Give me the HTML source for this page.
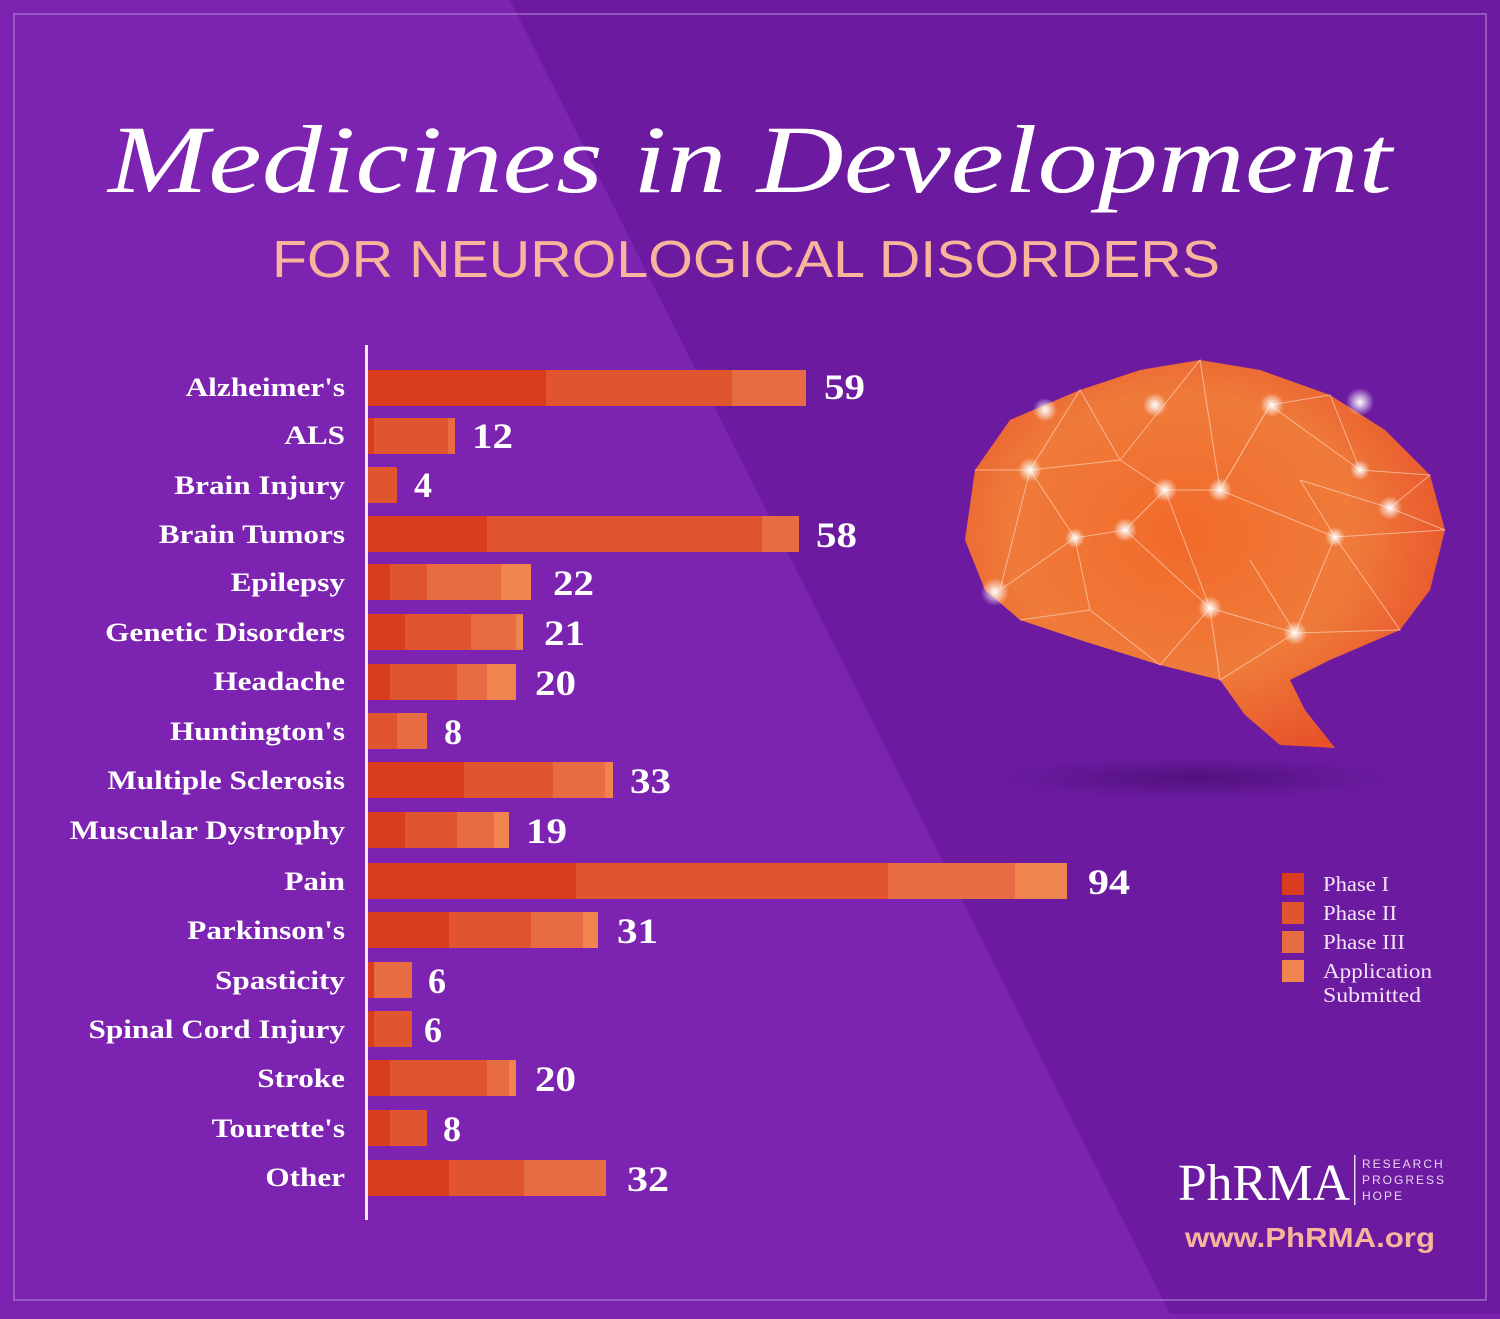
<!DOCTYPE html>
<html><head><meta charset="utf-8"><style>
html,body{margin:0;padding:0;}
body{width:1500px;height:1314px;overflow:hidden;background:#7b22b0;}
</style></head><body>
<svg width="1500" height="1314" viewBox="0 0 1500 1314" xmlns="http://www.w3.org/2000/svg">
<defs>
<radialGradient id="br" cx="0.45" cy="0.45" r="0.6">
<stop offset="0" stop-color="#f26a2a"/><stop offset="0.6" stop-color="#ef7b3a"/><stop offset="1" stop-color="#e8532a"/>
</radialGradient>
<radialGradient id="gl"><stop offset="0" stop-color="#fff" stop-opacity="1"/><stop offset="1" stop-color="#fff" stop-opacity="0"/></radialGradient>
<radialGradient id="sh"><stop offset="0" stop-color="#4a0f73" stop-opacity="0.8"/><stop offset="1" stop-color="#4a0f73" stop-opacity="0"/></radialGradient>
</defs>
<rect width="1500" height="1314" fill="#7d23b1"/>
<polygon points="510,0 1500,0 1500,1314 1170,1314" fill="#6c1ba1"/>
<rect x="14" y="14" width="1472" height="1286" fill="none" stroke="#b98ad6" stroke-width="1.5" opacity="0.7"/>
<text x="108" y="192" textLength="1284" lengthAdjust="spacingAndGlyphs" font-family="Liberation Serif, serif" font-style="italic" font-size="96" fill="#fff">Medicines in Development</text>
<text x="272" y="277" textLength="948" lengthAdjust="spacingAndGlyphs" font-family="Liberation Sans, sans-serif" font-size="52" fill="#f8b59c">FOR NEUROLOGICAL DISORDERS</text>
<!-- brain -->
<ellipse cx="1195" cy="778" rx="200" ry="22" fill="url(#sh)"/>
<path d="M975,470 L1010,420 L1080,390 L1140,370 L1200,360 L1260,370 L1330,395 L1385,430 L1430,475 L1445,530 L1430,590 L1400,630 L1330,660 L1290,680 L1305,710 L1335,748 L1280,745 L1245,715 L1220,680 L1160,665 L1080,640 L1020,620 L985,590 L965,540 Z" fill="url(#br)"/>
<g stroke="#fde0d0" stroke-width="1" fill="none" opacity="0.6">
<path d="M975,470 L1030,470 L1080,390 L1120,460 L1160,410 L1200,360 L1220,490 L1270,405 L1330,395 L1360,470 L1430,475 L1390,508 L1445,530 L1335,537 L1295,633 L1210,608 L1125,530 L1075,538 L1030,470 L1000,590 L1075,538 L1090,610 L1160,665 L1210,608 L1220,680 L1295,633 L1400,630 L1335,537 L1220,490 L1165,490 L1125,530 L1165,490 L1120,460 L1030,470"/>
<path d="M1090,610 L1020,620 M1360,470 L1270,405 L1220,490 M1300,480 L1390,508 M1300,480 L1335,537 M1165,490 L1210,608 M1250,560 L1295,633"/>
</g>
<g>
<circle cx="1045" cy="410" r="12" fill="url(#gl)"/><circle cx="1155" cy="405" r="12" fill="url(#gl)"/><circle cx="1272" cy="405" r="12" fill="url(#gl)"/><circle cx="1360" cy="402" r="14" fill="url(#gl)"/>
<circle cx="1030" cy="470" r="12" fill="url(#gl)"/><circle cx="1165" cy="490" r="12" fill="url(#gl)"/><circle cx="1220" cy="490" r="12" fill="url(#gl)"/><circle cx="1390" cy="508" r="12" fill="url(#gl)"/>
<circle cx="1125" cy="530" r="12" fill="url(#gl)"/><circle cx="1075" cy="538" r="10" fill="url(#gl)"/><circle cx="1335" cy="537" r="10" fill="url(#gl)"/><circle cx="995" cy="592" r="14" fill="url(#gl)"/>
<circle cx="1210" cy="608" r="12" fill="url(#gl)"/><circle cx="1295" cy="633" r="12" fill="url(#gl)"/><circle cx="1360" cy="470" r="10" fill="url(#gl)"/>
</g>
<!-- axis -->
<rect x="365" y="345" width="3" height="875" fill="#f2e6f7"/>
<g transform="translate(345,0) scale(1.2,1) translate(-345,0)" font-family="Liberation Serif, serif" font-weight="bold" font-size="26" fill="#fff" text-anchor="end">
<text x="345" y="396">Alzheimer's</text><text x="345" y="444">ALS</text><text x="345" y="494">Brain Injury</text><text x="345" y="543">Brain Tumors</text>
<text x="345" y="591">Epilepsy</text><text x="345" y="641">Genetic Disorders</text><text x="345" y="690">Headache</text><text x="345" y="740">Huntington's</text>
<text x="345" y="789">Multiple Sclerosis</text><text x="345" y="839">Muscular Dystrophy</text><text x="345" y="890">Pain</text><text x="345" y="939">Parkinson's</text>
<text x="345" y="989">Spasticity</text><text x="345" y="1038">Spinal Cord Injury</text><text x="345" y="1087">Stroke</text><text x="345" y="1137">Tourette's</text><text x="345" y="1186">Other</text>
</g>
<g>
<rect x="368" y="370" width="178" height="36" fill="#d93d1e"/><rect x="546" y="370" width="186" height="36" fill="#e0552e"/><rect x="732" y="370" width="74" height="36" fill="#e86c42"/>
<rect x="368" y="418" width="6" height="36" fill="#d93d1e"/><rect x="374" y="418" width="74" height="36" fill="#e0552e"/><rect x="448" y="418" width="7" height="36" fill="#e86c42"/>
<rect x="368" y="467" width="29" height="36" fill="#e0552e"/>
<rect x="368" y="516" width="119" height="36" fill="#d93d1e"/><rect x="487" y="516" width="275" height="36" fill="#e0552e"/><rect x="762" y="516" width="37" height="36" fill="#e86c42"/>
<rect x="368" y="564" width="22" height="36" fill="#d93d1e"/><rect x="390" y="564" width="37" height="36" fill="#e0552e"/><rect x="427" y="564" width="74" height="36" fill="#e86c42"/><rect x="501" y="564" width="30" height="36" fill="#f0844f"/>
<rect x="368" y="614" width="37" height="36" fill="#d93d1e"/><rect x="405" y="614" width="66" height="36" fill="#e0552e"/><rect x="471" y="614" width="45" height="36" fill="#e86c42"/><rect x="516" y="614" width="7" height="36" fill="#f0844f"/>
<rect x="368" y="664" width="22" height="36" fill="#d93d1e"/><rect x="390" y="664" width="67" height="36" fill="#e0552e"/><rect x="457" y="664" width="30" height="36" fill="#e86c42"/><rect x="487" y="664" width="29" height="36" fill="#f0844f"/>
<rect x="368" y="713" width="29" height="36" fill="#e0552e"/><rect x="397" y="713" width="30" height="36" fill="#e86c42"/>
<rect x="368" y="762" width="96" height="36" fill="#d93d1e"/><rect x="464" y="762" width="89" height="36" fill="#e0552e"/><rect x="553" y="762" width="52" height="36" fill="#e86c42"/><rect x="605" y="762" width="8" height="36" fill="#f0844f"/>
<rect x="368" y="812" width="37" height="36" fill="#d93d1e"/><rect x="405" y="812" width="52" height="36" fill="#e0552e"/><rect x="457" y="812" width="37" height="36" fill="#e86c42"/><rect x="494" y="812" width="15" height="36" fill="#f0844f"/>
<rect x="368" y="863" width="208" height="36" fill="#d93d1e"/><rect x="576" y="863" width="312" height="36" fill="#e0552e"/><rect x="888" y="863" width="127" height="36" fill="#e86c42"/><rect x="1015" y="863" width="52" height="36" fill="#f0844f"/>
<rect x="368" y="912" width="81" height="36" fill="#d93d1e"/><rect x="449" y="912" width="82" height="36" fill="#e0552e"/><rect x="531" y="912" width="52" height="36" fill="#e86c42"/><rect x="583" y="912" width="15" height="36" fill="#f0844f"/>
<rect x="368" y="962" width="6" height="36" fill="#d93d1e"/><rect x="374" y="962" width="38" height="36" fill="#e86c42"/>
<rect x="368" y="1011" width="6" height="36" fill="#d93d1e"/><rect x="374" y="1011" width="38" height="36" fill="#e0552e"/>
<rect x="368" y="1060" width="22" height="36" fill="#d93d1e"/><rect x="390" y="1060" width="97" height="36" fill="#e0552e"/><rect x="487" y="1060" width="22" height="36" fill="#e86c42"/><rect x="509" y="1060" width="7" height="36" fill="#f0844f"/>
<rect x="368" y="1110" width="22" height="36" fill="#d93d1e"/><rect x="390" y="1110" width="37" height="36" fill="#e0552e"/>
<rect x="368" y="1160" width="81" height="36" fill="#d93d1e"/><rect x="449" y="1160" width="75" height="36" fill="#e0552e"/><rect x="524" y="1160" width="82" height="36" fill="#e86c42"/>
</g>
<g font-family="Liberation Serif, serif" font-weight="bold" font-size="36" fill="#fff">
<text x="824" y="399" textLength="41" lengthAdjust="spacingAndGlyphs">59</text><text x="472" y="448" textLength="41" lengthAdjust="spacingAndGlyphs">12</text><text x="414" y="497">4</text><text x="816" y="547" textLength="41" lengthAdjust="spacingAndGlyphs">58</text>
<text x="553" y="595" textLength="41" lengthAdjust="spacingAndGlyphs">22</text><text x="544" y="645" textLength="41" lengthAdjust="spacingAndGlyphs">21</text><text x="535" y="695" textLength="41" lengthAdjust="spacingAndGlyphs">20</text><text x="444" y="744">8</text>
<text x="630" y="793" textLength="41" lengthAdjust="spacingAndGlyphs">33</text><text x="526" y="843" textLength="41" lengthAdjust="spacingAndGlyphs">19</text><text x="1088" y="894" textLength="42" lengthAdjust="spacingAndGlyphs">94</text><text x="617" y="943" textLength="41" lengthAdjust="spacingAndGlyphs">31</text>
<text x="428" y="993">6</text><text x="424" y="1042">6</text><text x="535" y="1091" textLength="41" lengthAdjust="spacingAndGlyphs">20</text><text x="443" y="1141">8</text><text x="627" y="1191" textLength="42" lengthAdjust="spacingAndGlyphs">32</text>
</g>
<!-- legend -->
<rect x="1282" y="873" width="22" height="22" fill="#d93d1e"/><rect x="1282" y="902" width="22" height="22" fill="#e0552e"/>
<rect x="1282" y="931" width="22" height="22" fill="#e86c42"/><rect x="1282" y="960" width="22" height="22" fill="#f0844f"/>
<g font-family="Liberation Serif, serif" font-size="21" fill="#f6e4f6">
<text x="1323" y="891" textLength="66" lengthAdjust="spacingAndGlyphs">Phase I</text><text x="1323" y="920" textLength="74" lengthAdjust="spacingAndGlyphs">Phase II</text><text x="1323" y="949" textLength="82" lengthAdjust="spacingAndGlyphs">Phase III</text><text x="1323" y="978" textLength="109" lengthAdjust="spacingAndGlyphs">Application</text><text x="1323" y="1002" textLength="98" lengthAdjust="spacingAndGlyphs">Submitted</text>
</g>
<text x="1178" y="1200" textLength="172" lengthAdjust="spacingAndGlyphs" font-family="Liberation Serif, serif" font-size="52" fill="#fff">PhRMA</text>
<rect x="1354" y="1155" width="1.5" height="50" fill="#e8d4f0"/>
<g font-family="Liberation Sans, sans-serif" font-size="12" fill="#e8d4f0" letter-spacing="2">
<text x="1362" y="1168">RESEARCH</text><text x="1362" y="1184">PROGRESS</text><text x="1362" y="1200">HOPE</text>
</g>
<text x="1185" y="1247" textLength="250" lengthAdjust="spacingAndGlyphs" font-family="Liberation Sans, sans-serif" font-weight="bold" font-size="28" fill="#f8b59c">www.PhRMA.org</text>
</svg>
</body></html>
